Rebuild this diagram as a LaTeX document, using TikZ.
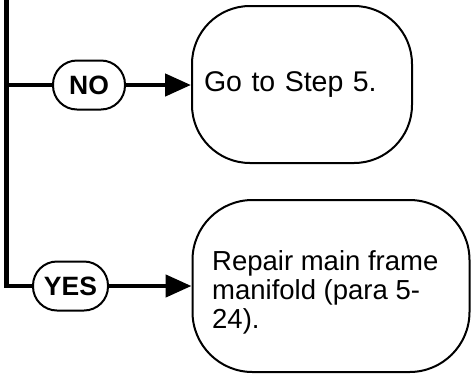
\documentclass[tikz,border=0pt]{standalone}
\usepackage{fontspec}
\setmainfont{Liberation Sans}
\usetikzlibrary{arrows.meta}
\tikzset{
  flow/.style={line width=4.6pt},
  arrowline/.style={line width=4.6pt,-{Triangle[length=26pt,width=22pt]}},
  pill/.style={draw,line width=2pt,rounded corners=24pt,minimum height=49pt,inner sep=0pt,
    font=\fontsize{26.5}{28}\selectfont\bfseries},
  stepbox/.style={draw,line width=2pt,inner sep=0pt},
  boxtext/.style={font=\fontsize{27.5}{29}\selectfont,align=left,inner sep=0pt}
}
\begin{document}
\begin{tikzpicture}[x=1pt,y=-1pt]
\useasboundingbox (0,0) rectangle (471,373);
% nodes
\node[pill,minimum width=72pt] (no) at (89,85) {NO};
\node[pill,minimum width=75pt] (yes) at (70.5,286) {YES};
\node[stepbox,rounded corners=58pt,minimum width=220pt,minimum height=157pt,
  boxtext,font=\fontsize{28.5}{29}\selectfont,text width=196pt] (go) at (302,84.5) {Go to Step 5.};
\node[stepbox,rounded corners=60pt,minimum width=277pt,minimum height=172pt] (repair) at (331,286) {};
\node[boxtext,anchor=north west] (repairtext) at (212,250.5)
  {Repair main frame\\manifold (para 5-\\24).};
% connectors
\coordinate (top) at (6.5,-3);
\draw[flow] (top) |- (yes.west);
\draw[flow] (top |- no.west) -- (no.west);
\draw[arrowline] (no.east) -- (no.east -| go.west);
\draw[arrowline] (yes.east) -- (yes.east -| repair.west);
\end{tikzpicture}
\end{document}
